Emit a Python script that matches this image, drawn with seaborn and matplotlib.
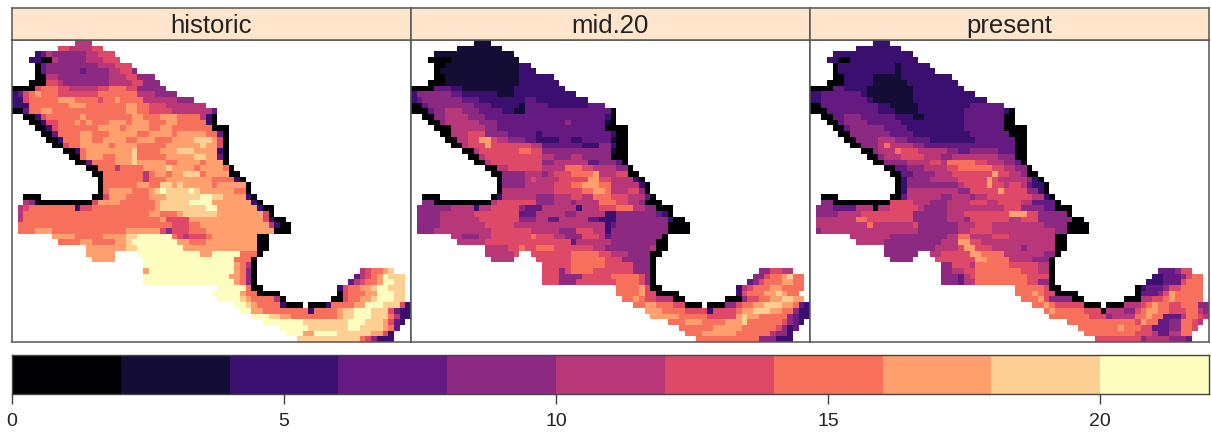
import re
import numpy as np
import matplotlib
matplotlib.use('Agg')
import matplotlib.pyplot as plt
import seaborn as sns

panel_names = ['historic', 'mid.20', 'present']
bar_ticks = [0, 5, 10, 15, 20]
bin_values = [1, 3, 5, 7, 9, 11, 13, 15, 17, 19, 21]

# each row is run length coded, letter = bin (a = 0-2 ... k = 20-22), . = no data
historic = [
    '.11f3', '.8g2f4g2', '.4c1d1f1e6f2g3', '.3c2a2f1e5f3g3', '.4a1d1e9f3g3',
    '.4a1d1e6d1e4f2g2e1', '.4a2f2e9f3g2e3', '.3a3g2f1e6e2f4g2e3', 'a4g1h3g2f5g2h3g2e5',
    'c1d1g1h1i1h3g7h7f3e4', 'c2g1h5i3h4g1h2i1h4f6e3', 'c3h7i3h7i2h2g3f7', 'a2d1h2i2h6h7i2h2g4f6f1d1',
    '.2a2c1g1h6i1h8i2h3i3h4f1c1a1', '.3a2c1g2h3i1h1i1h3i3h1i3h3i2h5c1a1', '.4a2c1g1h7i4h1i4h2i2h7a3',
    '.5a2d1h4i2h3i5h2i4h1i5h2d1a1', '.6a2c1h3i2h2i4h2i3h3i4j3i1g1a1', '.7a2g1h2i5h1i4h5i6j1i2g1a1',
    '.9a2c1h1i6i2j1h4i3j3i4c1a1', '.10a2h1i3h2i3j1h5i5j2i2d1a1', '.11a2d1h4i3j1i5h2i4h1i3a1',
    '.13a2h3f1h4i4j1i4h1i4h1a1', '.14a2h7f1h1i2h1i2j3h1i3i1a2', '.15a1h7f1h3i4i4h4c1a1',
    '.15a1h6i2h2j2i1j1i5h1i2i3a1', '.15a1h1i4h3i1j1k1j4k1j1i6h2a1', '.2a3.9a2g1i3h4i3j6k2j2i4c1a1',
    '.2f1e1a10g1i4h6i1j5k4i5i2c1a1', '.1f1g1h8c1g2h11i1j8k2i7c1a2', '.1f1h22i2h3i1j6i8g1a1',
    '.1f1h24i1g4i5i8g1c1a2', '.1h27g3h2i12f1c1a2', '.1h3i3h13i6g1e1g3h3i12a3',
    '.7i4h5i4j2k6h1g1f1g3h1i8a2', '.8h4i2h4i2j1k1k7i2h3i9a2', '.13i7j2k8i3i10a2',
    '.13i5.4k11i2k5h3a1', '.14i4.5k16h3a1', '.23k16i1h1f1a1',
    '.23i1k15i1h1e1a1.18f1g1h2i1j1', '.23k15i2h1e1a1.17d1f1g1h1i1k1j3', '.23k16i1h1e1a1.16d1f1g1h2i1k2j2',
    '.36k5h1a2.13c1g1h2i2j1k2j3', '.35k5i1h2a4.10a1g1h3i2k3j2', '.36k4j1i1h4f1a1.8a2g1h2i2j1k3j2',
    '.39k2j1i1h4c1a3.1a3c1h4i2k3j3g1c1', '.40k2i2h8c1h4i1j2k3j3g1d1c2', '.42k3j2i2h8i1j2k3j3h1f1c2',
    '.44k7j8k3j3i1g1d1c1', '.47k5j7k2j4i1h1d1', '.48k3i2k4j6i2g1c1', '.50j11h1g1e1c3',
]
mid_20 = [
    '.11b3', '.8b8', '.4b14', '.3a4b12', '.4a2b13c2',
    '.4a1b14c3', '.4a2b13c6', '.3a3b13c7', 'a4d3c2b9c9',
    'c1e6d2c6b3c11', 'c1d1e7d3c6c2d2c9', 'a2d1e8d3c5b1d4c7d3', 'a3d1e2f3e3d4c2b2d15a1',
    '.2a2e2f4e3d5d4d12c1a1', '.3a2e1f4f2e3d3d4d5e1d6b1a1', '.4a3f6e2d4d7d8a4',
    '.5a2f3g3e4d5c1d12c1a2', '.6a2f2g2i2g1f2e3d2c4d2c2d1d4b1a2', '.7a2f1g3i1g4g3f2d7c3e2c1a2',
    '.9a2f1g7h2g2e12b1a2', '.10a2f1g10f2e3f2e5a3', '.11a2f1g9e2f6d2e3d1a1',
    '.13a2f2g6f2f2h3g2f4e2a1', '.14a2e4f3e1f1g3h4i1f3g2a2', '.15a1e4f1g1f4g5i2g2f4c1a1',
    '.15a1e4f5g3h2i3h2f5c1a1', '.15a1f4f5g3g2h2i2h1f3g2e1a1', '.2a3.9a1c1f6e3f3g2f2h3g3f3d1a1',
    '.2e2a10f1g7e3f3e1f4h3g2f2e1a3', '.1e6f4c1f2g5e1d3f1f5c1f3g3h3f2e2a3', '.1e4f6g8d3f5e2f3f2c2e7d1c1a1',
    '.1e4f7g7e3f2d2f5d2c3e9c1a2', '.1e4f8g5f2f5f2f5f2c1d1e9a4', '.1e3f10g7f5e3g3f2c1e10a4',
    '.7f2e3f2g7h1g3f2e3g3f1d1e9a1', '.8f5g9g6d1f4f2e8a2', '.13f4g2h1g2h3g7f2e8f1a2',
    '.13f5g1.2g4g3h5g2f3e4a2', '.14f4.4g6h6g3e5a1', '.23g5h6g5e3a1',
    '.23g3e1g1h4g7e3a1.18e2g2f2', '.23g3e4g5h5g1e1a1.17e2g1h2i1j1h2', '.23g3e3g7h4g1e1a1.16d1e1g1h3i2h2',
    '.36h4i1g1a2.13c1f1g1h3i2h4', '.36h4i1g2a4.10c1g1h3i2j1i1h2', '.37h2i1h1g2f3a2.7a3e1g2h2i2j2i2',
    '.39h2i2h3g2a3.1a3e2g1h2i2j3i2h1d1c1', '.41i1i2h4g4c1g4h1i2j3i2h2e1c2', '.42i5h5g5i1j1i2h5e1d1c2',
    '.45h3i3h4i3j1h6g1e1d1c1', '.47h6i5h6g1e1c1d1', '.48h3i6h6f1e2c1', '.50h11e3c3',
]
present = [
    '.11c3', '.8c8', '.4c14', '.3c2a2c12', '.4a1c10b1c5',
    '.4a1c10b1c6', '.4a2c5b5c9', '.3a3c5b6c9', 'a4d2c4b8c9',
    'c2d7c1b8c11', 'c2d8c1b7c13', 'a2d8d2c2b5c9d6', 'a3d8d1c3b4c8d7c1a1',
    '.2a2d2e3d6c3b2c7d7a2', '.3a2d1e4d4d2c11d7a2', '.4a2d1e6d4c10d7a4',
    '.5a2e7d4c9c1d7a3', '.6a2e4f3e2d4c3c2c3d7a2', '.7a2e3f1h1f4e2d16a2',
    '.9a2e1f3h1g3f5e2d2e5d3a2', '.10a2e1f3g4f3e2f2f6e3a2', '.11a2e4f4g2f1h5g2f3e2d1a1',
    '.13a2d2e3f4g2h6g2f2e2a1', '.14a2d2e4f3g2g5i1g2f2e1a2', '.15a1c1e4f5g5i1g1f5e1c1a1',
    '.15a1c1e9f1g4i1g2f1g2f1d1c1c1a1', '.15a1c1f9e2g4g1i1g2g2e2c1a1', '.2a3.9a2d1f6e2f3e1f2g3g5f2c1a1',
    '.2e2a10g1g3f3e3f4g3f2g4f2d2d2a1', '.1e3d4f3a1f2g5f1e4f10g3e4d2a3', '.1e4f4g7g2e6f3g8i3g2e5a1',
    '.1f7h2g8e6f3e1g7f2g3e6a2', '.1f9h1f7g1e7f3g3f9e4a4', '.1e1f17e7f2g4f11e2a4',
    '.7f7e10f2h2f4g3f8a2', '.8f5e10f3i2g2f3f10a2', '.13e9f4g1i2g3f5e1f5a2',
    '.13e6.2f2g5i2h4f7e2a1', '.14e4.4g5g2i2h4f4e3a1', '.23e2g3f1h6g5f2a1',
    '.23e2f2g2h8g3f2a1.18d3e1g2', '.23e3d1f1g1h9g2g2a1.17c2d3e1g1h2', '.23e3d1f2h9g2e2a1.16c3d3g1h3',
    '.36h5g1a2.13a1c1d3e1g2h4', '.36h3i1h1g2a4.10a1d3e1g1i1h5', '.37h3i1g1e4a2.7a3f2g2h1i1h5',
    '.39h2i1h1g5a3.1a3f2f1g1h1i1h2g2h3e2', '.41h1i1h5g3a1f3e2g1h1i1i1h2g3h2f1e1', '.42h7g3e1f4h2i1h2d3f1h2g1f1',
    '.45h12g1i1h2d2e2h2g1f1', '.47h7i1h3g2d3e2h2g1', '.48h9g3f1d2f2h2', '.50g8e1f4e3d1',
]


def decode(rows, n_col=70):
    grid = np.full((len(rows), n_col), np.nan)
    for r, row in enumerate(rows):
        c = 0
        for ch, n in re.findall(r'([.a-k])(\d+)', row):
            n = int(n)
            if ch != '.':
                grid[r, c:c + n] = bin_values[ord(ch) - 97]
            c += n
    return grid


sns.set_theme(style='white')
plt.rcParams['font.family'] = ['Liberation Sans', 'DejaVu Sans']

W, H = 1211, 439
edge = '#555555'
strip_col = '#FFE5CC'
cmap = plt.get_cmap('magma', 11)


def box(x0, y0, x1, y1):
    return [x0 / W, 1 - y1 / H, (x1 - x0) / W, (y1 - y0) / H]


fig = plt.figure(figsize=(W / 100, H / 100), dpi=100)
lefts = [12, 411, 810]
for name, rows, x0 in zip(panel_names, [historic, mid_20, present], lefts):
    ax = fig.add_axes(box(x0, 41, x0 + 399, 343))
    sns.heatmap(decode(rows), ax=ax, cmap=cmap, vmin=0, vmax=22, cbar=False,
                xticklabels=False, yticklabels=False)
    for s in ax.spines.values():
        s.set_visible(True)
        s.set_color(edge)
        s.set_linewidth(1.1)

    st = fig.add_axes(box(x0, 9, x0 + 399, 41))
    st.set_facecolor(strip_col)
    st.set_xticks([])
    st.set_yticks([])
    for s in st.spines.values():
        s.set_visible(True)
        s.set_color(edge)
        s.set_linewidth(1.1)
    st.text(0.5, 0.48, name, ha='center', va='center', fontsize=18.5, color='#222222', transform=st.transAxes)

cax = fig.add_axes(box(12, 356, 1209, 395))
sns.heatmap(np.array([bin_values], dtype=float), ax=cax, cmap=cmap, vmin=0, vmax=22, cbar=False,
            xticklabels=False, yticklabels=False)
for s in cax.spines.values():
    s.set_visible(True)
    s.set_color('#444444')
    s.set_linewidth(1.0)
cax.set_xticks(np.array(bar_ticks) / 2)
cax.set_xticklabels(bar_ticks, fontsize=14, color='#222222', rotation=0)
cax.tick_params(axis='x', bottom=True, length=7, width=1, color='#444444', pad=6)

fig.savefig('out.png', dpi=100)
